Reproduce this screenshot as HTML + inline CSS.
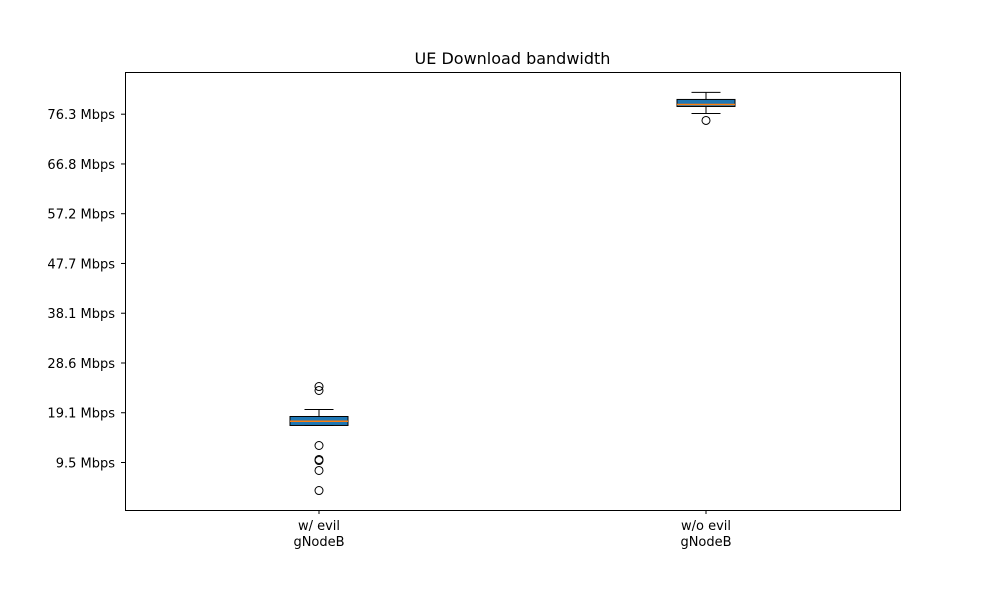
<!DOCTYPE html>
<html><head><meta charset="utf-8"><style>body{margin:0;background:#fff}svg text{font-family:"DejaVu Sans","Liberation Sans",sans-serif}</style></head>
<body>
<svg id="chart" width="1000" height="600" xmlns="http://www.w3.org/2000/svg">
<rect width="1000" height="600" fill="#fff"/>
<text x="512.5" y="64" text-anchor="middle" font-size="16">UE Download bandwidth</text>
<g id="plot"></g>
<rect x="125.5" y="72.5" width="775" height="438" fill="none" stroke="#000" stroke-width="1"/>
</svg>
<script>
const categories = [["w/ evil","gNodeB"],["w/o evil","gNodeB"]];
const whiskerLow = [16.64, 76.46];
const q1 = [16.64, 77.8];
const medians = [17.45, 78.19];
const q3 = [18.36, 79.15];
const whiskerHigh = [19.70, 80.5];
const outliers = [[24.11, 23.35, 12.80, 10.12, 9.92, 8.01, 4.17],[75.12]];
const tickValues = [9.54, 19.08, 28.62, 38.16, 47.7, 57.24, 66.78, 76.32];
const tickLabels = ["9.5 Mbps","19.1 Mbps","28.6 Mbps","38.1 Mbps","47.7 Mbps","57.2 Mbps","66.8 Mbps","76.3 Mbps"];

const NS = "http://www.w3.org/2000/svg";
const g = document.getElementById('plot');
function y(v){ return 462.5 - (v - 9.54) * (348.3 / 66.78); }
function x(i){ return 319 + i * 387; }
function mk(tag, attrs){ const e = document.createElementNS(NS, tag); for (const k in attrs) e.setAttribute(k, attrs[k]); g.appendChild(e); return e; }

tickValues.forEach((v, i) => {
  const t = mk('line', {x1:121, x2:125, y1:y(v), y2:y(v), stroke:'#000'});
  
  
  const l = mk('text', {x:115, y:y(v)+5, 'text-anchor':'end', 'font-size':13});
  
  
  l.textContent = tickLabels[i];
});

categories.forEach((c, i) => {
  const cx = x(i);
  const t = mk('line', {x1:cx, x2:cx, y1:510, y2:514, stroke:'#000'});
  
  
  c.forEach((s, j) => {
    const l = mk('text', {x:cx, y:530 + j*16, 'text-anchor':'middle', 'font-size':13});
    
    
    l.textContent = s;
  });
  const w1 = mk('line', {x1:cx, x2:cx, y1:y(q3[i]), y2:y(whiskerHigh[i]), stroke:'#000'});
  
  
  const w2 = mk('line', {x1:cx, x2:cx, y1:y(q1[i]), y2:y(whiskerLow[i]), stroke:'#000'});
  
  
  [whiskerHigh[i], whiskerLow[i]].forEach(v => {
    const cap = mk('line', {x1:cx-14.5, x2:cx+14.5, y1:y(v), y2:y(v), stroke:'#000'});
    
    
  });
  const b = mk('rect', {x:cx-29, y:y(q3[i]), width:58, height:y(q1[i]) - y(q3[i]), fill:'#1f77b4', stroke:'#000'});
  
  
  const m = mk('line', {x1:cx-29, x2:cx+29, y1:y(medians[i]), y2:y(medians[i]), stroke:'#ff7f0e', 'stroke-width':1.5});
  
  
  outliers[i].forEach(v => {
    const o = mk('circle', {cx:cx, cy:y(v), r:4, fill:'none', stroke:'#000'});
    
    
  });
});
</script>
</body></html>
